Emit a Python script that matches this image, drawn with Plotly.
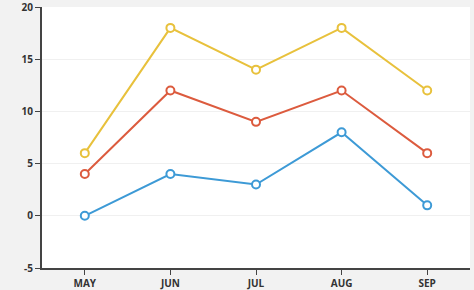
import plotly.graph_objects as go

months = ["MAY", "JUN", "JUL", "AUG", "SEP"]
series_a = [6, 18, 14, 18, 12]
series_b = [4, 12, 9, 12, 6]
series_c = [0, 4, 3, 8, 1]
y_ticks = [-5, 0, 5, 10, 15, 20]
colors = ["#e8c13c", "#dc5b3e", "#3d9ad6"]

fig = go.Figure()
for vals, col in zip([series_a, series_b, series_c], colors):
    fig.add_trace(go.Scatter(
        x=months, y=vals, mode="lines+markers",
        line=dict(color=col, width=2),
        marker=dict(symbol="circle", size=8, color="white", line=dict(color=col, width=2)),
        showlegend=False, cliponaxis=False,
    ))

fig.update_layout(
    width=474, height=290,
    margin=dict(l=42, r=4, t=7, b=22),
    paper_bgcolor="#f2f2f2", plot_bgcolor="white",
    font=dict(family="Open Sans", size=10, color="#333333"),
)
fig.update_xaxes(
    range=[-0.5, 4.5], showgrid=False, showline=True, linecolor="#444444", linewidth=2,
    ticks="outside", ticklen=5, tickcolor="#444444", tickwidth=1,
    tickfont=dict(family="Open Sans", size=10, color="#333333", weight="bold"),
    ticklabeloverflow="allow", automargin=False,
)
fig.update_yaxes(
    range=[-5, 20], tickvals=y_ticks, ticktext=[str(v) for v in y_ticks],
    showgrid=True, gridcolor="#f0f0f0", gridwidth=1,
    zeroline=False, showline=True, linecolor="#444444", linewidth=2,
    ticks="outside", ticklen=5, tickcolor="#444444", tickwidth=1,
    tickfont=dict(family="Open Sans", size=10, color="#333333", weight="bold"),
    ticklabeloverflow="allow", automargin=False,
)
fig.write_html("out.html")
